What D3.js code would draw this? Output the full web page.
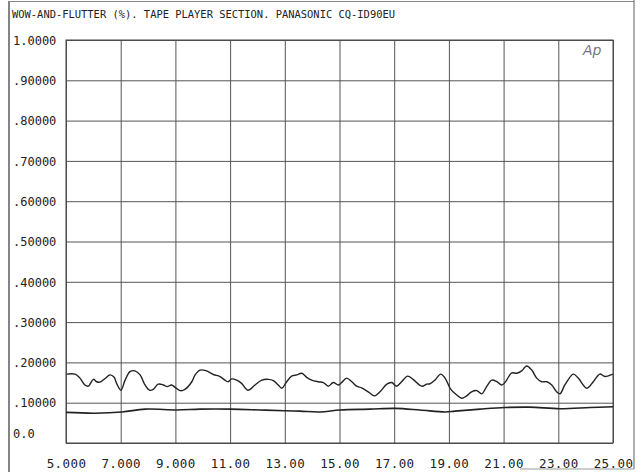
<!DOCTYPE html>
<html>
<head>
<meta charset="utf-8">
<script src="https://cdn.jsdelivr.net/npm/d3@7"></script>
<style>
  html, body { margin: 0; padding: 0; background: #fff; }
  svg { display: block; }
</style>
</head>
<body>
<script>
// Wow-and-flutter measurement, frequency sweep 5–25, two traces.
const titleText = "WOW-AND-FLUTTER (%). TAPE PLAYER SECTION. PANASONIC CQ-ID90EU";

const xTicks = [5, 7, 9, 11, 13, 15, 17, 19, 21, 23, 25];
const xTickLabels = ["5.000", "7.000", "9.000", "11.00", "13.00", "15.00", "17.00", "19.00", "21.00", "23.00", "25.00"];
const yTicks = [0, 0.1, 0.2, 0.3, 0.4, 0.5, 0.6, 0.7, 0.8, 0.9, 1.0];
const yTickLabels = ["0.0", ".10000", ".20000", ".30000", ".40000", ".50000", ".60000", ".70000", ".80000", ".90000", "1.0000"];

// Upper trace
const upperX = [5.03, 5.33, 5.51, 5.69, 5.82, 6.00, 6.12, 6.24, 6.43, 6.61, 6.76, 6.85, 7.01, 7.16, 7.34, 7.52, 7.71, 7.89, 8.05, 8.19,
  8.37, 8.56, 8.70, 8.86, 8.99, 9.17, 9.35, 9.60, 9.72, 9.90, 10.14, 10.39, 10.63, 10.81, 10.93, 11.06, 11.24, 11.42, 11.65, 11.91,
  12.16, 12.40, 12.58, 12.76, 12.89, 13.07, 13.25, 13.44, 13.62, 13.80, 13.98, 14.22, 14.41, 14.59, 14.77, 14.96, 15.08, 15.26, 15.45, 15.63,
  15.81, 16.05, 16.28, 16.48, 16.73, 16.91, 17.09, 17.27, 17.49, 17.69, 18.01, 18.19, 18.31, 18.49, 18.70, 18.86, 19.07, 19.29, 19.47, 19.65,
  19.83, 20.02, 20.20, 20.38, 20.57, 20.75, 20.93, 21.05, 21.30, 21.48, 21.66, 21.84, 22.03, 22.21, 22.39, 22.58, 22.76, 22.94, 23.06, 23.24,
  23.55, 23.73, 24.04, 24.28, 24.52, 24.71, 24.99];
const upperY = [0.171, 0.171, 0.161, 0.144, 0.141, 0.158, 0.152, 0.151, 0.160, 0.169, 0.163, 0.148, 0.131, 0.156, 0.177, 0.179, 0.169, 0.144, 0.131, 0.133,
  0.146, 0.144, 0.140, 0.144, 0.138, 0.130, 0.133, 0.152, 0.169, 0.181, 0.179, 0.170, 0.165, 0.156, 0.152, 0.159, 0.156, 0.148, 0.131, 0.144,
  0.156, 0.158, 0.155, 0.144, 0.136, 0.152, 0.166, 0.169, 0.173, 0.163, 0.156, 0.152, 0.150, 0.141, 0.150, 0.144, 0.150, 0.161, 0.152, 0.141,
  0.137, 0.127, 0.117, 0.127, 0.146, 0.150, 0.141, 0.152, 0.166, 0.158, 0.141, 0.146, 0.147, 0.156, 0.171, 0.161, 0.133, 0.119, 0.111, 0.117,
  0.127, 0.130, 0.122, 0.140, 0.156, 0.152, 0.144, 0.150, 0.174, 0.173, 0.179, 0.191, 0.181, 0.161, 0.152, 0.152, 0.144, 0.127, 0.122, 0.144,
  0.171, 0.161, 0.136, 0.152, 0.171, 0.165, 0.171];

// Lower trace
const lowerX = [5.0, 6.06, 7.05, 7.89, 9.06, 9.90, 11.03, 12.09, 13.01, 13.56, 14.29, 15.02, 16.12, 17.03, 17.94, 18.86, 19.22, 20.14, 21.05, 21.96, 23.06, 24.16, 25.0];
const lowerY = [0.076, 0.074, 0.077, 0.084, 0.082, 0.084, 0.084, 0.082, 0.080, 0.079, 0.077, 0.082, 0.084, 0.086, 0.082, 0.077, 0.079, 0.084, 0.088, 0.089, 0.085, 0.088, 0.090];

const W = 642, H = 472;
const plot = { left: 66, right: 613, top: 40, bottom: 443 };

const svg = d3.select("body").append("svg").attr("width", W).attr("height", H);

const x = d3.scaleLinear().domain([5, 25]).range([plot.left, plot.right]);
const y = d3.scaleLinear().domain([0, 1]).range([plot.bottom, plot.top]);

// Outer frame
svg.append("line").attr("x1", 9).attr("x2", 9).attr("y1", 1).attr("y2", H)
  .attr("stroke", "#333").attr("stroke-width", 1.2);
svg.append("line").attr("x1", 9).attr("x2", 634).attr("y1", 1.5).attr("y2", 1.5)
  .attr("stroke", "#888").attr("stroke-width", 1);
svg.append("line").attr("x1", 634).attr("x2", 634).attr("y1", 0).attr("y2", 469)
  .attr("stroke", "#777").attr("stroke-width", 1.2);
svg.append("line").attr("x1", 520).attr("x2", 634).attr("y1", 469).attr("y2", 469)
  .attr("stroke", "#999").attr("stroke-width", 1);

// Title
svg.append("text")
  .attr("x", 12).attr("y", 18)
  .attr("font-family", "DejaVu Sans Mono")
  .attr("font-size", 11)
  .attr("textLength", 383)
  .attr("lengthAdjust", "spacingAndGlyphs")
  .attr("fill", "#222")
  .text(titleText);

// Vertical grid + bottom labels
const xAxis = d3.axisBottom(x)
  .tickValues(xTicks)
  .tickFormat((d, i) => xTickLabels[i])
  .tickSizeInner(-(plot.bottom - plot.top))
  .tickSizeOuter(0)
  .tickPadding(16);
const gx = svg.append("g").attr("transform", `translate(0,${plot.bottom})`).call(xAxis);
gx.select(".domain").remove();
gx.selectAll(".tick line").attr("stroke", "#555").attr("stroke-width", 1);
gx.selectAll(".tick text")
  .attr("font-family", "DejaVu Sans Mono")
  .attr("font-size", 12.5)
  .attr("fill", "#222")
  .attr("letter-spacing", 0.4);

// Horizontal grid + left labels
const yAxis = d3.axisLeft(y)
  .tickValues(yTicks)
  .tickFormat((d, i) => yTickLabels[i])
  .tickSizeInner(-(plot.right - plot.left))
  .tickSizeOuter(0)
  .tickPadding(0);
const gy = svg.append("g").attr("transform", `translate(${plot.left},0)`).call(yAxis);
gy.select(".domain").remove();
gy.selectAll(".tick line").attr("stroke", "#555").attr("stroke-width", 1);
gy.selectAll(".tick text")
  .attr("font-family", "DejaVu Sans Mono")
  .attr("font-size", 12)
  .attr("fill", "#222")
  .attr("text-anchor", "start")
  .attr("x", 13 - plot.left)
  .attr("dy", d => d === 0 ? "-0.45em" : "0.35em");

// Plot border
svg.append("rect")
  .attr("x", plot.left).attr("y", plot.top)
  .attr("width", plot.right - plot.left).attr("height", plot.bottom - plot.top)
  .attr("fill", "none").attr("stroke", "#444").attr("stroke-width", 1);

// Instrument mark
svg.append("text")
  .attr("x", 583).attr("y", 55)
  .attr("font-family", "DejaVu Sans")
  .attr("font-style", "italic")
  .attr("font-size", 14)
  .attr("fill", "#777")
  .text("Ap");

// Traces
const line = d3.line()
  .x(d => x(d[0]))
  .y(d => y(d[1]))
  .curve(d3.curveCatmullRom.alpha(0.5));

svg.append("path")
  .datum(upperX.map((v, i) => [v, upperY[i]]))
  .attr("d", line)
  .attr("fill", "none").attr("stroke", "#222").attr("stroke-width", 1.4);

svg.append("path")
  .datum(lowerX.map((v, i) => [v, lowerY[i]]))
  .attr("d", line)
  .attr("fill", "none").attr("stroke", "#222").attr("stroke-width", 1.6);
</script>
</body>
</html>
